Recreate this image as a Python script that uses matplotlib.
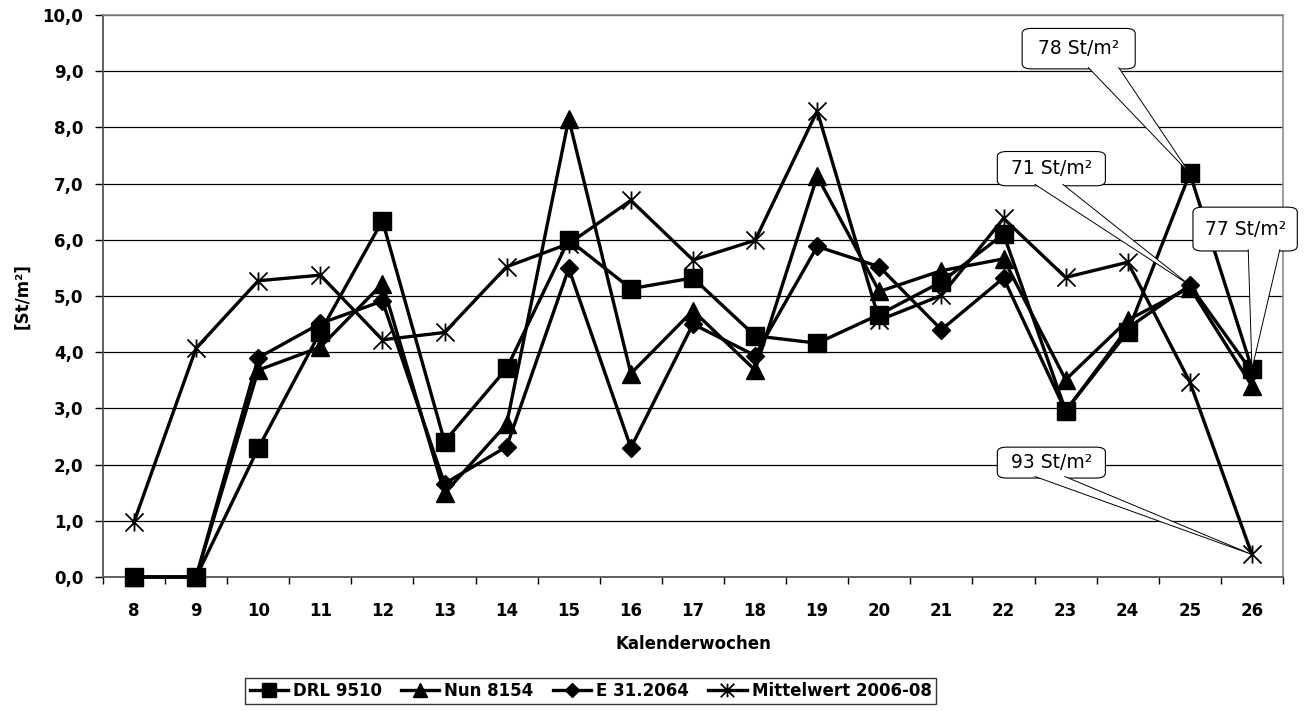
import numpy as np
import matplotlib
matplotlib.use("Agg")
import matplotlib.pyplot as plt
from matplotlib.path import Path
from matplotlib.patches import FancyBboxPatch, Polygon
from matplotlib.ticker import FixedLocator, NullFormatter, FixedFormatter

plt.rcParams["font.family"] = ["DejaVu Sans"]

weeks = [8, 9, 10, 11, 12, 13, 14, 15, 16, 17, 18, 19, 20, 21, 22, 23, 24, 25, 26]
drl_9510 = [0, 0, 2.29, 4.36, 6.34, 2.41, 3.71, 6.00, 5.13, 5.32, 4.29, 4.16,
            4.67, 5.25, 6.10, 2.96, 4.36, 7.18, 3.70]
nun_8154 = [0, 0, 3.68, 4.09, 5.22, 1.49, 2.72, 8.15, 3.62, 4.74, 3.68, 7.13,
            5.08, 5.45, 5.66, 3.51, 4.57, 5.15, 3.40]
e_31_2064 = [0, 0, 3.90, 4.51, 4.91, 1.66, 2.32, 5.49, 2.30, 4.50, 3.94, 5.88,
             5.52, 4.40, 5.32, 2.95, 4.43, 5.19, 3.65]
mittelwert = [0.98, 4.07, 5.27, 5.37, 4.22, 4.35, 5.52, 5.93, 6.70, 5.64, 5.99,
              8.29, 4.57, 5.01, 6.38, 5.33, 5.60, 3.47, 0.40]
y_ticks = [0, 1, 2, 3, 4, 5, 6, 7, 8, 9, 10]

# callouts: label, series, week it points at
callouts = [("78 St/m²", drl_9510, 25), ("71 St/m²", e_31_2064, 25),
            ("77 St/m²", drl_9510, 26), ("93 St/m²", mittelwert, 26)]
# box (x0, x1, y0, y1) and wedge base (x_left, x_right), in axis units
callout_box = [(14.30, 16.12, 9.04, 9.76), (13.90, 15.64, 6.96, 7.57),
               (17.05, 18.73, 5.80, 6.58), (13.90, 15.64, 1.76, 2.31)]
callout_base = [(15.36, 15.85), (14.50, 14.95), (17.94, 18.45), (14.50, 14.98)]

# Excel-style star marker: X plus vertical bar
star = Path([(-1, -1), (1, 1), (-1, 1), (1, -1), (0, -1), (0, 1)],
            [Path.MOVETO, Path.LINETO, Path.MOVETO, Path.LINETO, Path.MOVETO, Path.LINETO])

fig = plt.figure(figsize=(13.08, 7.11), dpi=100)
ax = fig.add_axes([0.0787, 0.1885, 0.9022, 0.7905])

x = np.arange(len(weeks))
series = [("DRL 9510", drl_9510, 5, dict(marker="s", markersize=12.5)),
          ("Nun 8154", nun_8154, 2, dict(marker="^", markersize=12.5)),
          ("E 31.2064", e_31_2064, 3, dict(marker="D", markersize=9.5)),
          ("Mittelwert 2006-08", mittelwert, 4,
           dict(marker=star, markersize=13, markerfacecolor="none", markeredgewidth=1.3))]
for name, vals, z, mk in series:
    ax.plot(x, vals, color="black", linewidth=2.4, label=name, clip_on=False,
            zorder=z, **mk)

for (txt, vals, wk), (x0, x1, y0, y1), (bl, br) in zip(callouts, callout_box, callout_base):
    i = weeks.index(wk)
    box = FancyBboxPatch((x0, y0), x1 - x0, y1 - y0,
                         boxstyle="round,pad=0,rounding_size=0.15",
                         fc="white", ec="black", lw=0.8, zorder=6, clip_on=False,
                         mutation_aspect=0.6)
    ax.add_patch(box)
    wedge = Polygon([(bl, y0 + 0.03), (i, vals[i]), (br, y0 + 0.03)], closed=False,
                    fc="white", ec="black", lw=0.7, zorder=7, clip_on=False)
    ax.add_patch(wedge)
    ax.text((x0 + x1) / 2, (y0 + y1) / 2, txt, fontsize=13.5, ha="center",
            va="center", zorder=8)

ax.set_xlim(-0.5, len(weeks) - 0.5)
ax.set_ylim(0, 10)
ax.xaxis.set_major_locator(FixedLocator(np.arange(-0.5, len(weeks), 1)))
ax.xaxis.set_major_formatter(NullFormatter())
ax.xaxis.set_minor_locator(FixedLocator(x))
ax.xaxis.set_minor_formatter(FixedFormatter([str(w) for w in weeks]))
ax.tick_params(axis="x", which="major", direction="out", length=5, width=1)
ax.tick_params(axis="x", which="minor", length=0, pad=18, labelsize=12)
ax.set_yticks(y_ticks)
ax.set_yticklabels([f"{v:.1f}".replace(".", ",") for v in y_ticks],
                   fontsize=12, fontweight="bold")
for lab in ax.get_xticklabels(minor=True):
    lab.set_fontweight("bold")
ax.tick_params(axis="y", direction="out", length=6, width=1, pad=8)

ax.set_axisbelow(True)
ax.yaxis.grid(True, color="black", linewidth=0.9)
for s in ["top", "right"]:
    ax.spines[s].set_color("#8c8c8c")
    ax.spines[s].set_linewidth(1.2)
for s in ["left", "bottom"]:
    ax.spines[s].set_color("#555555")
    ax.spines[s].set_linewidth(1.3)

ax.set_xlabel("Kalenderwochen", fontsize=12, fontweight="bold", labelpad=11)
ax.set_ylabel("[St/m²]", fontsize=12, fontweight="bold", labelpad=8)

leg = fig.legend(loc="center", bbox_to_anchor=(0.4515, 0.028), ncol=4,
                 prop=dict(size=12, weight="bold"), frameon=True, fancybox=False,
                 edgecolor="black", markerscale=0.75, handlelength=2.3,
                 handletextpad=0.3, columnspacing=1.15, borderpad=0.25)
leg.get_frame().set_linewidth(1.0)

fig.savefig("out.png", dpi=100)
